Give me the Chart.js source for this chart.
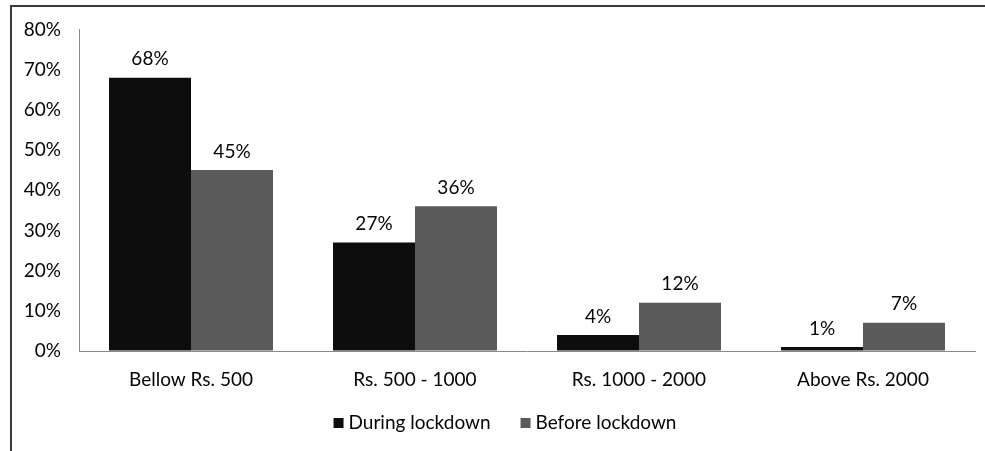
<!DOCTYPE html>
<html>
<head>
<meta charset="utf-8">
<script src="https://cdn.jsdelivr.net/npm/chart.js@4/dist/chart.umd.min.js"></script>
<style>
  html, body { margin: 0; padding: 0; background: #fff; }
  #wrap { width: 985px; height: 451px; position: relative; }
</style>
</head>
<body>
<div id="wrap"><canvas id="c" width="985" height="451"></canvas></div>
<script>
const categories = ['Bellow Rs. 500', 'Rs. 500 - 1000', 'Rs. 1000 - 2000', 'Above Rs. 2000'];
const duringLockdown = [68, 27, 4, 1];
const beforeLockdown = [45, 36, 12, 7];
const yTicks = [0, 10, 20, 30, 40, 50, 60, 70, 80];

const FONT = 'Lato, "Liberation Sans", sans-serif';
const WEIGHT = 'normal';
const SIZE = 19;
const TEXT = '#050505';

// frame lines on the top and left edges
const framePlugin = {
  id: 'frame',
  beforeDraw(chart) {
    const ctx = chart.ctx;
    ctx.save();
    ctx.fillStyle = '#fff';
    ctx.fillRect(0, 0, chart.width, chart.height);
    ctx.strokeStyle = '#3a3a3a';
    ctx.lineWidth = 2;
    ctx.beginPath();
    ctx.moveTo(11, chart.height);
    ctx.lineTo(11, 6);
    ctx.lineTo(chart.width, 6);
    ctx.stroke();
    ctx.restore();
  }
};

// percentage labels above each bar
const valueLabels = {
  id: 'valueLabels',
  afterDatasetsDraw(chart) {
    const ctx = chart.ctx;
    ctx.save();
    ctx.font = WEIGHT + ' ' + SIZE + 'px ' + FONT;
    ctx.fillStyle = TEXT;
    ctx.textAlign = 'center';
    ctx.textBaseline = 'bottom';
    chart.data.datasets.forEach((ds, i) => {
      chart.getDatasetMeta(i).data.forEach((bar, j) => {
        ctx.fillText(ds.data[j] + '%', bar.x, bar.y - 9);
      });
    });
    ctx.restore();
  }
};

// compact legend below the category labels: 10px swatch, 5px gap, 30px between items
const bottomLegend = {
  id: 'bottomLegend',
  afterDraw(chart) {
    const ctx = chart.ctx;
    ctx.save();
    ctx.font = WEIGHT + ' ' + SIZE + 'px ' + FONT;
    ctx.textBaseline = 'middle';
    ctx.textAlign = 'left';
    const items = chart.data.datasets.map(ds => ({
      label: ds.label, color: ds.backgroundColor, w: ctx.measureText(ds.label).width
    }));
    const box = 10, gap = 5, between = 30;
    const total = items.reduce((s, it) => s + box + gap + it.w, 0) + between * (items.length - 1);
    const cy = chart.chartArea.bottom + 72;
    let x = (chart.chartArea.left + chart.chartArea.right) / 2 - 22 - total / 2;
    items.forEach(it => {
      ctx.fillStyle = it.color;
      ctx.fillRect(x, cy - box / 2, box, box);
      x += box + gap;
      ctx.fillStyle = TEXT;
      ctx.fillText(it.label, x, cy);
      x += it.w + between;
    });
    ctx.restore();
  }
};

const tickFont = { family: FONT, size: SIZE, weight: WEIGHT };

new Chart(document.getElementById('c'), {
  type: 'bar',
  data: {
    labels: categories,
    datasets: [
      { label: 'During lockdown', data: duringLockdown, backgroundColor: '#0d0d0d' },
      { label: 'Before lockdown', data: beforeLockdown, backgroundColor: '#5a5a5a' }
    ]
  },
  options: {
    responsive: false,
    animation: false,
    devicePixelRatio: 1,
    layout: { padding: { top: 26, left: 14, right: 10, bottom: 60 } },
    datasets: { bar: { categoryPercentage: 0.732, barPercentage: 1 } },
    plugins: {
      legend: { display: false },
      tooltip: { enabled: false }
    },
    scales: {
      x: {
        afterFit(scale) { scale.height = 40; },
        grid: { drawOnChartArea: false, drawTicks: false },
        border: { display: true, color: '#8a8a8a', width: 1 },
        ticks: { font: tickFont, color: TEXT, padding: 17 }
      },
      y: {
        min: 0,
        max: 80,
        afterBuildTicks(scale) { scale.ticks = yTicks.map(v => ({ value: v })); },
        afterFit(scale) { scale.width = 65; },
        grid: { drawOnChartArea: false, drawTicks: false },
        border: { display: true, color: '#8a8a8a', width: 1 },
        ticks: {
          font: tickFont,
          color: TEXT,
          padding: 18,
          callback: v => v + '%'
        }
      }
    }
  },
  plugins: [framePlugin, valueLabels, bottomLegend]
});
</script>
</body>
</html>
